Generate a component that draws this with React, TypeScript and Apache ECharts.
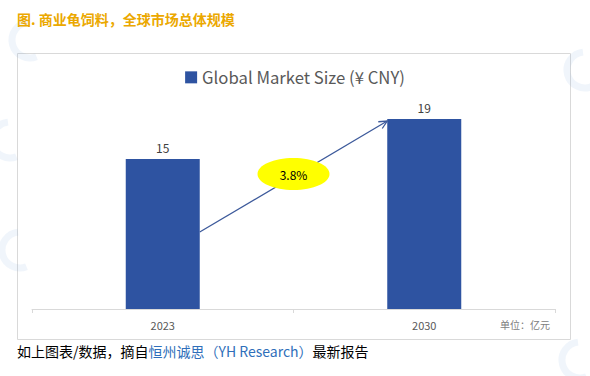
import React, { useEffect, useRef } from "react";
import * as echarts from "echarts";

const categories = ["2023", "2030"];
const marketSize = [15, 19];
const seriesName = "Global Market Size (¥ CNY)";
const cagrLabel = "3.8%";
const titleText = "图. 商业龟饲料，全球市场总体规模";
const unitText = "单位：亿元";

export default function App() {
  const ref = useRef<HTMLDivElement>(null);
  useEffect(() => {
    const el = ref.current!;
    const chart = echarts.init(el, null, { renderer: "svg" });
    const barW = 74;
    const font = "'Noto Sans CJK SC', 'Noto Sans', sans-serif";
    const option: any = {
      animation: false,
      backgroundColor: "#ffffff",
      textStyle: { fontFamily: font },
      legend: {
        data: [seriesName],
        top: 64,
        left: "center",
        itemWidth: 12,
        itemHeight: 12,
        icon: "rect",
        textStyle: { fontSize: 16.7, color: "#595959", fontFamily: font },
      },
      grid: { left: 32, right: 35, top: 109, bottom: 67, containLabel: false },
      xAxis: {
        type: "category",
        data: categories,
        axisLine: { lineStyle: { color: "#d9d9d9" } },
        axisTick: { show: true, length: 4, lineStyle: { color: "#d9d9d9" } },
        axisLabel: { color: "#595959", fontSize: 11, margin: 10 },
      },
      yAxis: { type: "value", min: 0, max: 20, show: false, splitLine: { show: false } },
      series: [
        {
          name: seriesName,
          type: "bar",
          data: marketSize,
          barWidth: barW,
          itemStyle: { color: "#2E53A1" },
          label: { show: true, position: "top", color: "#404040", fontSize: 12, distance: 6 },
        },
      ],
    };
    chart.setOption(option);
    const p0 = chart.convertToPixel({ gridIndex: 0 }, [categories[0], 7.7]) as number[];
    const p1 = chart.convertToPixel({ gridIndex: 0 }, [categories[1], 18.8]) as number[];
    const pm = chart.convertToPixel({ gridIndex: 0 }, [0.5, 13.5]) as number[];
    const x0 = p0[0] + barW / 2;
    const y0 = p0[1];
    const x1 = p1[0] - barW / 2;
    const y1 = p1[1];
    const ang = Math.atan2(y1 - y0, x1 - x0);
    const ah = 9;
    const a1 = [x1 - ah * Math.cos(ang - 0.45), y1 - ah * Math.sin(ang - 0.45)];
    const a2 = [x1 - ah * Math.cos(ang + 0.45), y1 - ah * Math.sin(ang + 0.45)];
    const mx = (x0 + x1) / 2;
    const wm = "rgba(120,160,220,0.11)";
    chart.setOption({
      graphic: [
        { type: "arc", shape: { cx: 30, cy: 40, r: 18, startAngle: 1.2, endAngle: 4.6 }, style: { stroke: wm, lineWidth: 7, fill: "none" }, silent: true },
        { type: "arc", shape: { cx: 10, cy: 140, r: 18, startAngle: 1.2, endAngle: 4.6 }, style: { stroke: wm, lineWidth: 7, fill: "none" }, silent: true },
        { type: "arc", shape: { cx: 20, cy: 250, r: 18, startAngle: 1.2, endAngle: 4.6 }, style: { stroke: wm, lineWidth: 7, fill: "none" }, silent: true },
        { type: "arc", shape: { cx: 585, cy: 70, r: 18, startAngle: 1.2, endAngle: 4.6 }, style: { stroke: wm, lineWidth: 7, fill: "none" }, silent: true },
        { type: "arc", shape: { cx: 580, cy: 360, r: 18, startAngle: 1.2, endAngle: 4.6 }, style: { stroke: wm, lineWidth: 7, fill: "none" }, silent: true },
        {
          type: "rect",
          shape: { x: 17.5, y: 53.5, width: 553, height: 286 },
          style: { fill: "none", stroke: "#d9d9d9", lineWidth: 1 },
          silent: true,
          z: -1,
        },
        {
          type: "text",
          left: 17,
          top: 12,
          style: { text: titleText, fill: "#EBA800", font: `bold 14px ${font}` },
        },
        {
          type: "text",
          left: 500,
          top: 319,
          style: { text: unitText, fill: "#808080", font: `10px ${font}` },
        },
        {
          type: "text",
          left: 17,
          top: 344,
          style: {
            text: "{a|如上图表/数据，摘自}{b|恒州诚思（YH Research）}{a|最新报告}",
            rich: {
              a: { fill: "#000000", fontSize: 14, fontFamily: font },
              b: { fill: "#2F6FBA", fontSize: 14, fontFamily: font },
            },
          },
        },
        {
          type: "line",
          shape: { x1: x0, y1: y0, x2: x1, y2: y1 },
          style: { stroke: "#3D5A9B", lineWidth: 1.3 },
          z: 10,
        },
        {
          type: "polyline",
          shape: { points: [a1, [x1, y1], a2] },
          style: { stroke: "#3D5A9B", lineWidth: 1.3, fill: "none" },
          z: 10,
        },
        {
          type: "ellipse",
          shape: { cx: mx, cy: pm[1], rx: 36, ry: 16 },
          style: { fill: "#FFFF00", stroke: "none" },
          z: 11,
        },
        {
          type: "text",
          x: mx,
          y: pm[1],
          style: { text: cagrLabel, fill: "#000000", font: `12px ${font}`, align: "center", verticalAlign: "middle" },
          z: 12,
        },
      ],
    });
    return () => chart.dispose();
  }, []);
  return (
    <div style={{ position: "absolute", left: 0, top: 0, width: 590, height: 376 }}>
      <div ref={ref} style={{ width: 590, height: 376 }} />
    </div>
  );
}
